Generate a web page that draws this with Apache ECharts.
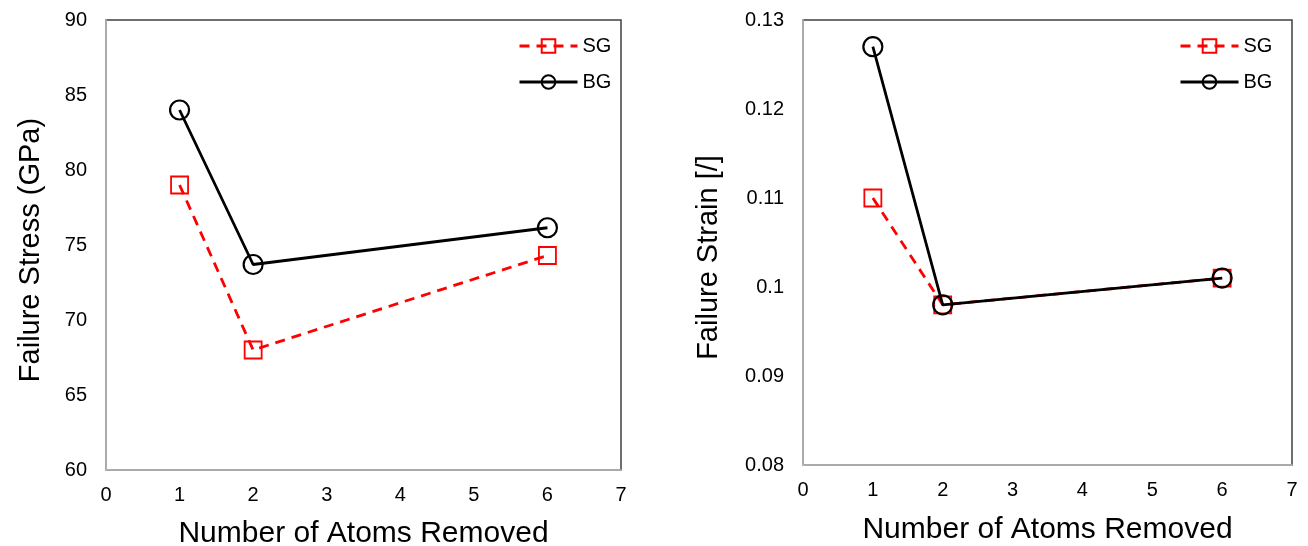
<!DOCTYPE html>
<html>
<head>
<meta charset="utf-8">
<script src="https://cdn.jsdelivr.net/npm/echarts@6/dist/echarts.min.js"></script>
<style>
  html, body { margin: 0; padding: 0; background: #fff; }
  #chart { width: 1308px; height: 546px; }
</style>
</head>
<body>
<div id="chart"></div>
<script>
// Atoms removed (x positions of each point)
const atomsRemoved = [1, 2, 6];

// Failure stress in GPa
const stressSG = [79.0, 68.0, 74.3];
const stressBG = [84.0, 73.7, 76.15];

// Failure strain (dimensionless)
const strainSG = [0.110, 0.098, 0.101];
const strainBG = [0.127, 0.098, 0.101];

const seriesNames = ['SG', 'BG'];

const FONT = '"Liberation Sans", Arial, sans-serif';
const AXIS_GRAY = '#bfbfbf';
const BORDER_DARK = '#404040';

function pairs(xs, ys) {
  return xs.map((x, i) => [x, ys[i]]);
}

function xAxisFor(gridIndex, gap) {
  return {
    type: 'value', gridIndex: gridIndex,
    min: 0, max: 7, interval: 1,
    name: 'Number of Atoms Removed',
    nameLocation: 'middle', nameGap: gap,
    nameTextStyle: { fontFamily: FONT, fontSize: 30, color: '#000' },
    axisLine: { show: true, lineStyle: { color: AXIS_GRAY, width: 1.5 } },
    axisTick: { show: false },
    splitLine: { show: false },
    axisLabel: { fontFamily: FONT, fontSize: 20, color: '#000', margin: 15 }
  };
}

function sgSeries(x, y, data) {
  return {
    name: 'SG', type: 'line', xAxisIndex: x, yAxisIndex: y,
    data: data,
    symbol: 'rect', symbolSize: 17,
    lineStyle: { color: '#ff0000', width: 2.8, type: [10, 7] },
    itemStyle: { color: 'rgba(255,255,255,0)', borderColor: '#ff0000', borderWidth: 1.8 },
    z: 2
  };
}

function bgSeries(x, y, data) {
  return {
    name: 'BG', type: 'line', xAxisIndex: x, yAxisIndex: y,
    data: data,
    symbol: 'circle', symbolSize: 19,
    lineStyle: { color: '#000000', width: 2.8 },
    itemStyle: { color: 'rgba(255,255,255,0)', borderColor: '#000000', borderWidth: 2.2 },
    z: 3
  };
}

function legendAt(left) {
  return {
    left: left, top: 31, orient: 'vertical',
    data: seriesNames,
    itemWidth: 58, itemHeight: 17, itemGap: 16,
    lineStyle: { width: 3 },
    textStyle: { fontFamily: FONT, fontSize: 20, color: '#000' }
  };
}

const chart = echarts.init(document.getElementById('chart'), null, { renderer: 'canvas' });

chart.setOption({
  animation: false,
  backgroundColor: '#ffffff',
  grid: [
    { left: 106, top: 20, width: 515, height: 450, show: true, outerBoundsMode: 'none',
      borderColor: BORDER_DARK, borderWidth: 1.5, backgroundColor: 'transparent' },
    { left: 803, top: 20, width: 489, height: 445, show: true, outerBoundsMode: 'none',
      borderColor: BORDER_DARK, borderWidth: 1.5, backgroundColor: 'transparent' }
  ],
  legend: [legendAt(513), legendAt(1174)],
  xAxis: [xAxisFor(0, 49), xAxisFor(1, 50)],
  yAxis: [
    {
      type: 'value', gridIndex: 0,
      min: 60, max: 90, interval: 5,
      name: 'Failure Stress (GPa)',
      nameLocation: 'middle', nameGap: 61,
      nameTextStyle: { fontFamily: FONT, fontSize: 29, color: '#000', padding: [0, 10, 0, 0] },
      axisLine: { show: true, lineStyle: { color: AXIS_GRAY, width: 1.5 } },
      axisTick: { show: false },
      splitLine: { show: false },
      axisLabel: { fontFamily: FONT, fontSize: 20, color: '#000', margin: 19 }
    },
    {
      type: 'value', gridIndex: 1,
      min: 0.08, max: 0.13, interval: 0.01,
      name: 'Failure Strain [/]',
      nameLocation: 'middle', nameGap: 80,
      nameTextStyle: { fontFamily: FONT, fontSize: 29, color: '#000', padding: [0, 30, 0, 0] },
      axisLine: { show: true, lineStyle: { color: AXIS_GRAY, width: 1.5 } },
      axisTick: { show: false },
      splitLine: { show: false },
      axisLabel: {
        fontFamily: FONT, fontSize: 20, color: '#000', margin: 19,
        formatter: v => String(Math.round(v * 100) / 100)
      }
    }
  ],
  series: [
    sgSeries(0, 0, pairs(atomsRemoved, stressSG)),
    bgSeries(0, 0, pairs(atomsRemoved, stressBG)),
    sgSeries(1, 1, pairs(atomsRemoved, strainSG)),
    bgSeries(1, 1, pairs(atomsRemoved, strainBG))
  ]
});
</script>
</body>
</html>
